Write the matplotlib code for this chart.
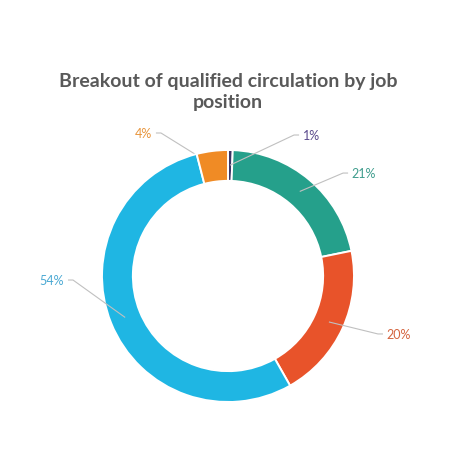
import matplotlib
matplotlib.use('Agg')
import matplotlib.pyplot as plt
import numpy as np

# job position shares (%), clockwise from 12 o'clock
shares = [0.6, 21.2, 20.0, 54.2, 4.0]
slice_colors = ['#3b3462', '#25a08b', '#e8532a', '#1fb6e3', '#f08b25']
label_colors = ['#5a4a8c', '#3f9d8d', '#d4643f', '#4ba9d3', '#e8953c']
title = 'Breakout of qualified circulation by job\nposition'

# label layout (radius units): leader elbow and which side the text sits on
elbows = [(0.524, 1.119), (0.913, 0.817), (1.19, -0.46), (-1.23, -0.032), (-0.532, 1.135)]
sides = [1, 1, 1, -1, -1]

plt.rcParams['font.family'] = ['Lato', 'DejaVu Sans']

fig = plt.figure(figsize=(4.6, 4.6), dpi=100)
ax = fig.add_axes([0, 0, 1, 1])
cx, cy, R = 228.0, 277.0, 126.0

wedges, _ = ax.pie(shares, colors=slice_colors, startangle=90, counterclock=False,
                   radius=1.0, wedgeprops=dict(width=0.245, edgecolor='white', linewidth=1.4))

for i, (w, v, col, (ex, ey), s) in enumerate(zip(wedges, shares, label_colors, elbows, sides)):
    ang = np.deg2rad((w.theta1 + w.theta2) / 2.0)
    sx, sy = 0.88 * np.cos(ang), 0.88 * np.sin(ang)
    # the 4% leader stops at the ring edge in the original
    z = 0.5 if i == 4 else 3
    ax.plot([sx, ex, ex + s * 0.04], [sy, ey, ey], color='#c0c0c0', lw=0.8,
            solid_capstyle='butt', zorder=z)
    ax.text(ex + s * 0.07, ey, '%d%%' % round(v), color=col, fontsize=9,
            ha='left' if s > 0 else 'right', va='center')

ax.set_aspect('auto')
ax.set_xlim(-cx / R, (460 - cx) / R)
ax.set_ylim(-(460 - cy) / R, cy / R)
ax.axis('off')

fig.text(0.496, 1 - 92 / 460., title, ha='center', va='center', fontsize=14,
         fontweight='bold', color='#595959', linespacing=1.35)

fig.savefig('out.png', dpi=100, facecolor='white')
